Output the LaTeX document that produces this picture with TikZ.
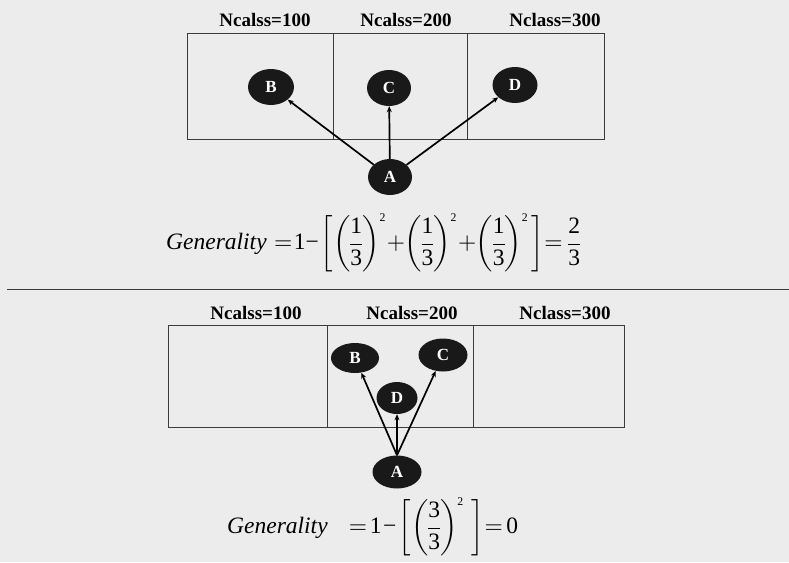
\documentclass[tikz,border=0pt]{standalone}
\usepackage{amsmath}
\usepackage{fontspec}
\setmainfont{Liberation Serif}
\newfontfamily\eqf{Liberation Serif}
\usetikzlibrary{shapes.geometric,arrows.meta}
\definecolor{bgcol}{RGB}{236,236,236}
\definecolor{nodecol}{RGB}{25,25,25}
\definecolor{boxcol}{RGB}{60,60,60}
\newcommand\tx[1]{\text{\eqf #1}}
\newcommand\fr[2]{\dfrac{\tx{#1}}{\tx{#2}}}
\newcommand\pw[2]{{\left(\fr{#1}{#2}\right)^{\scriptscriptstyle\tx{2}}}}
\newcommand\eqsetup{\nulldelimiterspace=0pt\relax}
\tikzset{
  vnode/.style={ellipse,fill=nodecol,draw=none,text=white,inner sep=0pt,
    font=\fontsize{17}{18}\selectfont\bfseries},
  cell/.style={draw=boxcol,line width=0.9pt},
  lbl/.style={font=\fontsize{19}{22}\selectfont\bfseries,inner sep=0pt},
  arr/.style={line width=1.7pt,-{Stealth[length=6pt,width=5pt]}},
  eqn/.style={font=\normalsize,inner sep=0pt,anchor=west},
}
\begin{document}
\begin{tikzpicture}[x=1pt,y=-1pt]
\fill[bgcol] (0,0) rectangle (789,562);
\useasboundingbox (0,0) rectangle (789,562);
% top panel
\draw[cell] (187,33) rectangle (604,139);
\draw[cell] (333,33) -- (333,139);
\draw[cell] (467,33) -- (467,139);
\node[lbl] (t1) at (265,20) {Ncalss=100};
\node[lbl] (t2) at (406,20) {Ncalss=200};
\node[lbl] (t3) at (555,20) {Nclass=300};
\node[vnode,minimum width=46pt,minimum height=36pt] (tB) at (271,87) {B};
\node[vnode,minimum width=44pt,minimum height=36pt] (tC) at (389,88) {C};
\node[vnode,minimum width=45pt,minimum height=36pt] (tD) at (515,85) {D};
\node[vnode,minimum width=44pt,minimum height=36pt] (tA) at (390,177) {A};
\draw[arr] (tA) -- (tB);
\draw[arr] (tA) -- (tC);
\draw[arr] (tA) -- (tD);
\node[eqn] (eq1) at (166,243) {\scalebox{2.35}{$\eqsetup\tx{\itshape Generality}\kern3.2pt{=}\kern0.6pt\tx{1}\kern0pt\tx{−}\kern0.8pt{\left[\pw13\kern0.1pt{+}\kern-0.3pt\pw13\kern0.1pt{+}\kern-0.3pt\pw13\kern1pt\right]}\kern0.3pt{=}\kern2.4pt{\fr23}$}};
% separator
\coordinate (s1) at (7,289);
\coordinate (s2) at (789,289);
\draw[draw=boxcol,line width=1pt] (s1) -- (s2);
% bottom panel
\draw[cell] (168,325) rectangle (624,427);
\draw[cell] (327,325) -- (327,427);
\draw[cell] (473,325) -- (473,427);
\node[lbl] (b1) at (256,313) {Ncalss=100};
\node[lbl] (b2) at (412,313) {Ncalss=200};
\node[lbl] (b3) at (565,313) {Nclass=300};
\node[vnode,minimum width=48pt,minimum height=30pt] (bB) at (355,358) {B};
\node[vnode,minimum width=49pt,minimum height=33pt] (bC) at (443,355) {C};
\node[vnode,minimum width=41pt,minimum height=32pt] (bD) at (397,398) {D};
\node[vnode,minimum width=49pt,minimum height=33pt] (bA) at (397,472) {A};
\draw[arr] (bA.north) -- (bB);
\draw[arr] (bA.north) -- (bD);
\draw[arr] (bA.north) -- (bC);
\node[eqn] (eq2) at (227,527) {\scalebox{2.35}{$\eqsetup\tx{\itshape Generality}\kern9pt{=}\kern1.2pt\tx{1}\kern0.6pt\tx{−}\kern1pt{\left[\pw33\kern2.8pt\right]}\kern0.5pt{=}\kern1.5pt\tx{0}$}};
\end{tikzpicture}
\end{document}
